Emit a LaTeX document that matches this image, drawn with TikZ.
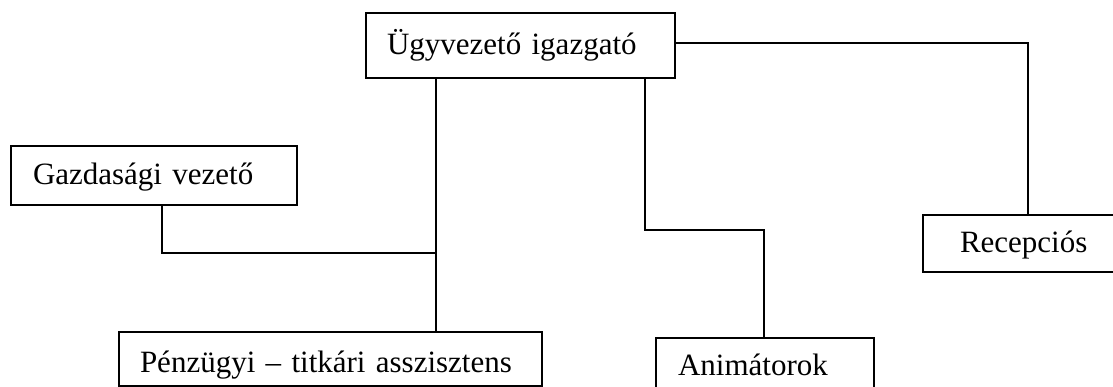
\documentclass[tikz,border=0pt]{standalone}
\usepackage{fontspec}
\setmainfont{Liberation Serif}
\begin{document}
\begin{tikzpicture}[x=1pt,y=-1pt,
  orgbox/.style={draw=black,line width=2.4pt,fill=white,align=left,inner ysep=0pt,
    text height=26pt,text depth=7pt,font=\fontsize{31}{36}\selectfont,outer sep=0pt},
  conn/.style={draw=black,line width=2.8pt,line join=miter}]
\useasboundingbox (0,0) rectangle (1113,387);
\clip (0,0) rectangle (1113,387);
\fill[white] (0,0) rectangle (1113,387);
% boxes
\node[orgbox,inner xsep=21pt,text width=267pt,minimum height=65pt] (ugy) at (520.5,45.5) {Ügyvezető igazgató};
\node[orgbox,inner xsep=22pt,text width=242pt,minimum height=59pt] (gaz) at (154,175.5) {Gazdasági vezető};
\node[orgbox,inner xsep=21pt,text width=381pt,minimum height=54pt,text height=33pt] (penz) at (330.5,359) {Pénzügyi – titkári asszisztens};
\node[orgbox,inner xsep=22pt,text width=174pt,minimum height=55pt] (anim) at (765,365.5) {Animátorok};
\node[orgbox,inner xsep=37pt,text width=127pt,minimum height=57pt] (rec) at (1023.5,243.5) {Recepciós};
% junction coordinates
\coordinate (j1) at (436,253);
\coordinate (g1) at (162,253);
\coordinate (a1) at (645,230);
\coordinate (a2) at (764,230);
\coordinate (r1) at (1028,43);
% connectors
\draw[conn] (ugy.south -| j1) -- (penz.north -| j1);
\draw[conn] (gaz.south -| g1) -- (g1) -- (j1);
\draw[conn] (ugy.south -| a1) -- (a1) -- (a2) -- (anim.north -| a2);
\draw[conn] (ugy.east |- r1) -- (r1) -- (rec.north -| r1);
\end{tikzpicture}
\end{document}
